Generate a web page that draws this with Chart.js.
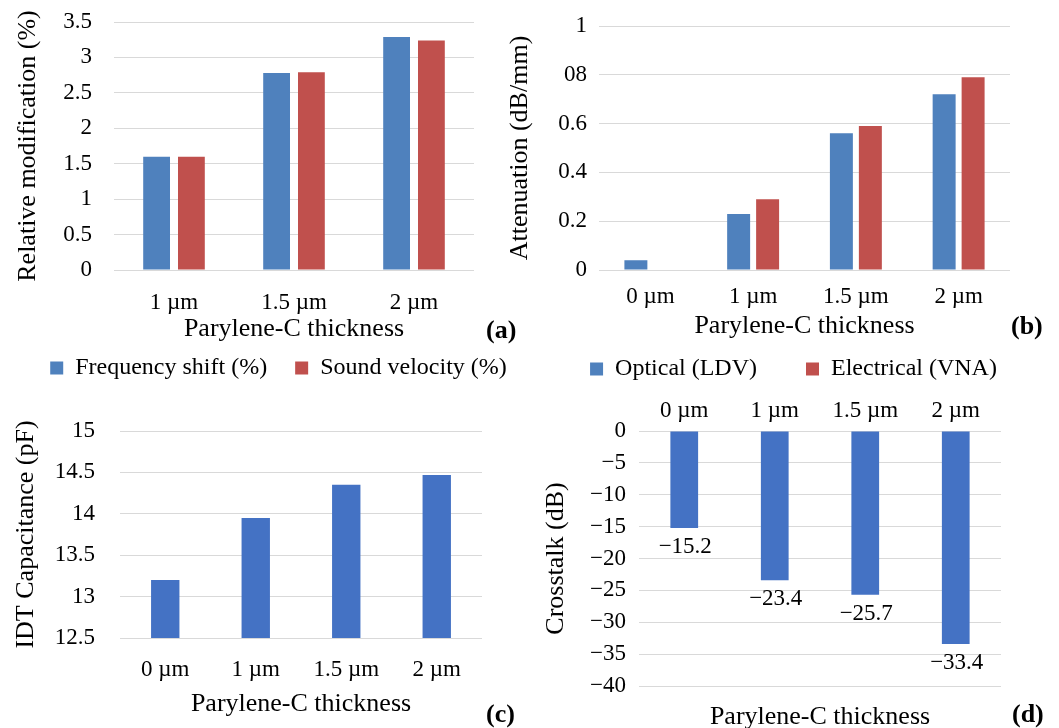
<!DOCTYPE html>
<html>
<head>
<meta charset="utf-8">
<script src="https://cdn.jsdelivr.net/npm/chart.js@4.4.1/dist/chart.umd.min.js"></script>
<style>
  html, body { margin: 0; padding: 0; background: #fff; overflow: hidden; }
  #page { position: relative; width: 1059px; height: 728px; overflow: hidden; background: #fff; }
  #page canvas { position: absolute; }
  .tag { position: absolute; font: bold 26px 'Liberation Serif', serif; line-height: 31px; color: #000; }
</style>
</head>
<body>
<div id="page">
  <canvas id="chartA" width="557" height="390" style="left:0;top:0"></canvas>
  <canvas id="chartB" width="587" height="391" style="left:500px;top:0"></canvas>
  <canvas id="chartC" width="530" height="330" style="left:0;top:390px"></canvas>
  <canvas id="chartD" width="529" height="338" style="left:530px;top:390px"></canvas>
  <div class="tag" style="left:486px;top:314px">(a)</div>
  <div class="tag" style="left:1011px;top:310px">(b)</div>
  <div class="tag" style="left:486px;top:698px">(c)</div>
  <div class="tag" style="left:1012px;top:698px">(d)</div>
</div>
<script>
//========================= Data ==================================//
const thicknessA = ['1 µm', '1.5 µm', '2 µm'];
const freqShift = [1.6, 2.78, 3.29];
const soundVelocity = [1.6, 2.79, 3.24];
const ticksA = ['0', '0.5', '1', '1.5', '2', '2.5', '3', '3.5'];

const thickness = ['0 µm', '1 µm', '1.5 µm', '2 µm'];
const optical = [0.04, 0.23, 0.56, 0.72];
const electrical = [null, 0.29, 0.59, 0.79];
const ticksB = ['0', '0.2', '0.4', '0.6', '08', '1'];

const capacitance = [13.2, 13.95, 14.35, 14.47];
const ticksC = ['12.5', '13', '13.5', '14', '14.5', '15'];

const crosstalk = [-15.2, -23.4, -25.7, -33.4];
const ticksD = ['−40', '−35', '−30', '−25', '−20', '−15', '−10', '−5', '0'];

//========================= Common ==================================//
const BLUE_OLD = '#4F81BD';
const RED_OLD = '#C0504D';
const BLUE = '#4472C4';
const GRID = '#d9d9d9';
const FONT = "'Liberation Serif', 'DejaVu Serif', serif";

Chart.defaults.font.family = FONT;
Chart.defaults.color = '#000';

function fixW(w) { return s => { s.width = w; }; }
function fixH(h) { return s => { s.height = h; }; }

// gap between labels and plot is made with an invisible tick mark,
// ticks.padding would also push the plot top down
function yAxis(min, max, step, labels, width, gap, titleText, titlePad) {
  return {
    min: min,
    max: max,
    ticks: { stepSize: step, padding: 0, font: { family: FONT, size: 23 }, callback: (v, i) => labels[i] },
    grid: { color: GRID, drawTicks: true, tickLength: gap, tickColor: 'rgba(0,0,0,0)' },
    border: { display: false },
    title: { display: true, text: titleText, font: { family: FONT, size: 26 }, padding: { top: titlePad, bottom: 0 } },
    afterFit: fixW(width)
  };
}

function xAxis(position, height, tickPad, titleText, titlePadBottom) {
  return {
    type: 'category',
    position: position,
    ticks: { padding: tickPad || 0, font: { family: FONT, size: 23 }, display: tickPad !== null },
    grid: { display: false, drawTicks: false },
    border: { display: false },
    title: { display: !!titleText, text: titleText || '', font: { family: FONT, size: 26 }, padding: { top: 0, bottom: titlePadBottom } },
    afterFit: fixH(height)
  };
}

// empty axis on the right, only there to keep room next to the plot
function spacer(width) {
  return {
    type: 'linear',
    position: 'right',
    grid: { display: false },
    border: { display: false },
    ticks: { display: false },
    afterFit: fixW(width)
  };
}

const legendOpts = (pad) => ({
  position: 'bottom',
  labels: { boxWidth: 13, boxHeight: 13, padding: pad, font: { family: FONT, size: 24 } }
});

function drawCharts() {

  /***************************************************************
  * (a) Relative modification
  ****************************************************************/
  new Chart(document.getElementById('chartA'), {
    type: 'bar',
    data: {
      labels: thicknessA,
      datasets: [
        { label: 'Frequency shift (%)', data: freqShift, backgroundColor: BLUE_OLD, categoryPercentage: 0.58, barPercentage: 0.77 },
        { label: 'Sound velocity (%)', data: soundVelocity, backgroundColor: RED_OLD, categoryPercentage: 0.58, barPercentage: 0.77 }
      ]
    },
    options: {
      responsive: false,
      animation: false,
      layout: { padding: { top: 22, left: 0, right: 0, bottom: 0 } },
      plugins: { legend: legendOpts(28), tooltip: { enabled: false } },
      scales: {
        x: xAxis('bottom', 58, 19, 'Parylene-C thickness', -16.6),
        y: yAxis(0, 3.5, 0.5, ticksA, 114, 22, 'Relative modification (%)', 13),
        yR: spacer(83)
      }
    }
  });

  /***************************************************************
  * (b) Attenuation
  ****************************************************************/
  new Chart(document.getElementById('chartB'), {
    type: 'bar',
    data: {
      labels: thickness,
      datasets: [
        { label: 'Optical (LDV)', data: optical, backgroundColor: BLUE_OLD, categoryPercentage: 0.564, barPercentage: 0.793 },
        { label: 'Electrical (VNA)', data: electrical, backgroundColor: RED_OLD, categoryPercentage: 0.564, barPercentage: 0.793 }
      ]
    },
    options: {
      responsive: false,
      animation: false,
      layout: { padding: { top: 26, left: 0, right: 0, bottom: 0 } },
      plugins: { legend: legendOpts(49), tooltip: { enabled: false } },
      scales: {
        x: xAxis('bottom', 38, 13, 'Parylene-C thickness', -33.6),
        y: yAxis(0, 1, 0.2, ticksB, 99, 12, 'Attenuation (dB/mm)', 5),
        yR: spacer(77)
      }
    }
  });

  /***************************************************************
  * (c) IDT capacitance
  ****************************************************************/
  new Chart(document.getElementById('chartC'), {
    type: 'bar',
    data: {
      labels: thickness,
      datasets: [
        { label: 'IDT Capacitance (pF)', data: capacitance, backgroundColor: BLUE, categoryPercentage: 0.8, barPercentage: 0.392 }
      ]
    },
    options: {
      responsive: false,
      animation: false,
      layout: { padding: { top: 41, left: 0, right: 48, bottom: 0 } },
      plugins: { legend: { display: false }, tooltip: { enabled: false } },
      scales: {
        x: xAxis('bottom', 82, 18, 'Parylene-C thickness', 0),
        y: yAxis(12.5, 15, 0.5, ticksC, 120, 25, 'IDT Capacitance (pF)', 11)
      }
    }
  });

  /***************************************************************
  * (d) Crosstalk
  ****************************************************************/
  const barValueLabels = {
    id: 'barValueLabels',
    afterDatasetsDraw(chart) {
      const ctx = chart.ctx;
      const values = chart.data.datasets[0].data;
      ctx.save();
      ctx.font = "23px " + FONT;
      ctx.fillStyle = '#000';
      ctx.textAlign = 'center';
      ctx.textBaseline = 'middle';
      chart.getDatasetMeta(0).data.forEach((bar, i) => {
        ctx.fillText('−' + Math.abs(values[i]), bar.x + 1, bar.y + 19);
      });
      ctx.restore();
    }
  };

  new Chart(document.getElementById('chartD'), {
    type: 'bar',
    data: {
      labels: thickness,
      datasets: [
        { label: 'Crosstalk (dB)', data: crosstalk, backgroundColor: BLUE, categoryPercentage: 0.8, barPercentage: 0.383 }
      ]
    },
    options: {
      responsive: false,
      animation: false,
      layout: { padding: { top: 0, left: 0, right: 58, bottom: 0 } },
      plugins: { legend: { display: false }, tooltip: { enabled: false } },
      scales: {
        x: xAxis('top', 41, 6, null, 0),
        x2: xAxis('bottom', 42, null, 'Parylene-C thickness', -5),
        y: yAxis(-40, 0, 5, ticksD, 109, 13, 'Crosstalk (dB)', 11)
      }
    },
    plugins: [barValueLabels]
  });
}

// make sure the serif face is ready before the canvases draw text
document.fonts.load("23px 'Liberation Serif'").then(drawCharts, drawCharts);
</script>
</body>
</html>
